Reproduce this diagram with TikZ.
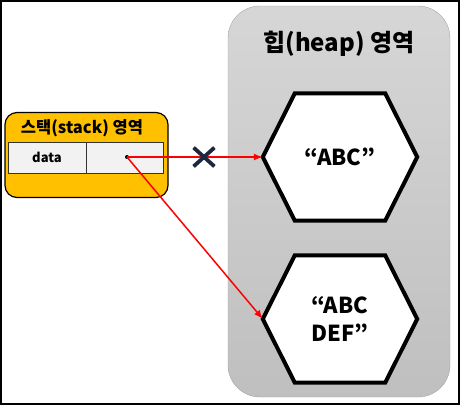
\documentclass[tikz,border=0pt]{standalone}
\usepackage{fontspec}
\setmainfont{Noto Sans CJK KR}
\usetikzlibrary{arrows.meta,shapes.misc,backgrounds}
\definecolor{stackorange}{HTML}{FFC000}
\definecolor{cellgray}{HTML}{F2F2F2}
\definecolor{crossnavy}{HTML}{1C2740}
\tikzset{
  heaparea/.style={draw=black!35, top color=black!16, bottom color=black!25,
    rounded corners=32, minimum width=222, minimum height=391, inner sep=0},
  stackarea/.style={draw=black, line width=1.2, fill=stackorange,
    rounded corners=12, minimum width=163, minimum height=85, inner sep=0},
  cell/.style={draw=black!80, fill=cellgray, minimum height=31, inner sep=0,
    font=\bfseries\fontsize{13}{15}\selectfont},
  hexbox/.style={minimum width=154, minimum height=127, inner sep=0, align=center,
    font=\bfseries\fontsize{22}{28}\selectfont},
  ref/.style={red, line width=1.5, -{Latex[length=9pt,width=7pt]}},
}

\begin{document}
\begin{tikzpicture}[x=1pt,y=-1pt]
	\useasboundingbox (0,0) rectangle (460,405);
	\draw[line width=2] (1,1) rectangle (459,404);
	% heap
	\begin{scope}[on background layer]
		\node[heaparea] (heap) at (339,201.5) {};
	\end{scope}
	\node[font=\bfseries\fontsize{24}{27}\selectfont] (heaptitle) at (339,44) {힙(heap) 영역};
	\node[hexbox] (abc) at (340,157) {“ABC”};
	\node[hexbox] (abcdef) at (340,319) {“ABC\\DEF”};
	\begin{scope}[on background layer]
		\foreach \h in {abc,abcdef}
			\draw[line width=4, fill=white] ([xshift=32]\h.north west) -- ([xshift=-32]\h.north east)
				-- (\h.east) -- ([xshift=-32]\h.south east) -- ([xshift=32]\h.south west) -- (\h.west) -- cycle;
	\end{scope}
	% stack
	\node[stackarea] (stack) at (86.5,155) {};
	\node[font=\bfseries\fontsize{16.5}{18}\selectfont] (stacktitle) at (82,128) {스택(stack) 영역};
	\node[cell, minimum width=78] (datacell) at (47,157.5) {data};
	\node[cell, minimum width=77] (refcell) at (124.5,157.5) {};
	\node[circle, fill, inner sep=0, minimum size=4] (ptr) at (127,157) {};
	% references
	\draw[ref] (ptr.center) -- (abc.west);
	\draw[ref] (ptr.center) -- (abcdef.west);
	\node[cross out, draw=crossnavy, line width=3.8, minimum width=17, minimum height=15, inner sep=0] (cut) at (204,157) {};
\end{tikzpicture}
\end{document}
